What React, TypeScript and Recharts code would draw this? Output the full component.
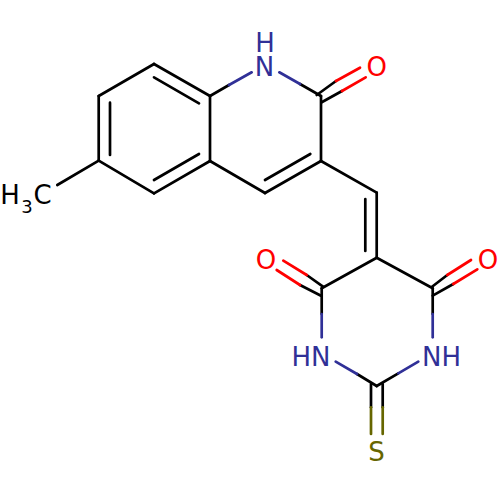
import { ComposedChart, Line, Scatter, XAxis, YAxis } from "recharts";

type Bond = [number, number, number, number];
type Atom = { x: number; y: number; label: string };

// x1, y1, x2, y2
const blackBonds: Bond[] = [
  [154, 64, 98.7, 96],
  [98.7, 96, 98.7, 160.7],
  [98.7, 160.7, 154, 193.3],
  [154, 193.3, 210, 161],
  [210, 161, 210, 96],
  [210, 96, 154, 64],
  [154, 77.3, 199, 103.3],
  [110, 102.7, 110, 155],
  [154, 180, 199, 154],
  [98.7, 160.7, 57.3, 185],
  [210, 96, 229, 85],
  [300, 84, 321, 96],
  [321, 96, 321, 161],
  [321, 161, 265, 193],
  [265, 193, 210, 161],
  [265, 180, 310.3, 154],
  [316.7, 95, 336, 81],
  [321.7, 102.3, 342, 91],
  [321, 161, 376.7, 192.7],
  [376.7, 192.7, 376.7, 257.7],
  [365.3, 199, 365.3, 251],
  [376.7, 257.7, 321.7, 288.3],
  [376.7, 257.7, 432.7, 288.3],
  [321.7, 288.3, 321.7, 314],
  [432.7, 288.3, 432.7, 314],
  [323, 286.7, 306.7, 275],
  [321, 295.7, 300, 285],
  [431.7, 287, 447.3, 275],
  [432.7, 295.7, 453.3, 284],
  [376.7, 386, 357, 374],
  [376.7, 386, 398.3, 373.3],
  [371, 384, 371, 407.3],
  [382.7, 384, 382.7, 407.3],
];
const blueBonds: Bond[] = [
  [229, 85, 251.7, 72.3],
  [279.3, 72.3, 300, 84],
  [321.7, 314, 321.7, 337.3],
  [432.7, 314, 432.7, 337.3],
  [357, 374, 335.7, 361.7],
  [398.3, 373.3, 418.3, 361.7],
];
const redBonds: Bond[] = [
  [336, 81, 360, 67.7],
  [342, 91, 365.7, 77.3],
  [306.7, 275, 283.3, 260.7],
  [300, 285, 276.7, 270],
  [447.3, 275, 471, 260],
  [453.3, 284, 477.3, 269.3],
];
const oliveBonds: Bond[] = [
  [371, 407.3, 371, 434],
  [382.7, 407.3, 382.7, 434],
];

// label centre x, baseline y
const darkAtoms: Atom[] = [
  { x: 10, y: 204, label: "H" },
  { x: 42.5, y: 204, label: "C" },
];
const darkSubscripts: Atom[] = [{ x: 27, y: 212.5, label: "3" }];
const blueAtoms: Atom[] = [
  { x: 265, y: 51.5, label: "H" },
  { x: 264.5, y: 75.5, label: "N" },
  { x: 311, y: 365.5, label: "HN" },
  { x: 441.5, y: 365.5, label: "NH" },
];
const redAtoms: Atom[] = [
  { x: 376.7, y: 75.5, label: "O" },
  { x: 266, y: 268.5, label: "O" },
  { x: 488, y: 268.5, label: "O" },
];
const oliveAtoms: Atom[] = [{ x: 376.5, y: 460.5, label: "S" }];

const BLACK = "#000000";
const BLUE = "#303097";
const RED = "#ff0000";
const OLIVE = "#666600";

const bondLines = (bonds: Bond[], color: string, name: string) =>
  bonds.map(([x1, y1, x2, y2], i) => (
    <Line
      key={`${name}-${i}`}
      data={[
        { x: x1, y: y1 },
        { x: x2, y: y2 },
      ]}
      dataKey="y"
      stroke={color}
      strokeWidth={2.7}
      strokeLinecap="round"
      dot={false}
      activeDot={false}
      legendType="none"
      isAnimationActive={false}
    />
  ));

const atomLabels = (atoms: Atom[], color: string, fontSize = 26) => (
  <Scatter
    data={atoms}
    dataKey="y"
    isAnimationActive={false}
    shape={(props: any) => (
      <text
        x={props.cx}
        y={props.cy}
        fill={color}
        fontSize={fontSize}
        fontFamily="DejaVu Sans"
        textAnchor="middle"
      >
        {props.payload.label}
      </text>
    )}
  />
);

export default function App() {
  return (
    <div style={{ position: "absolute", left: 0, top: 0, width: 500, height: 500, background: "#fff" }}>
      <ComposedChart width={500} height={500} margin={{ top: 0, right: 0, bottom: 0, left: 0 }}>
        <XAxis type="number" dataKey="x" domain={[0, 500]} hide />
        <YAxis type="number" dataKey="y" domain={[0, 500]} reversed hide />
        {bondLines(blackBonds, BLACK, "black")}
        {bondLines(blueBonds, BLUE, "blue")}
        {bondLines(redBonds, RED, "red")}
        {bondLines(oliveBonds, OLIVE, "olive")}
        {atomLabels(darkAtoms, BLACK)}
        {atomLabels(darkSubscripts, BLACK, 18)}
        {atomLabels(blueAtoms, BLUE)}
        {atomLabels(redAtoms, RED)}
        {atomLabels(oliveAtoms, OLIVE)}
      </ComposedChart>
    </div>
  );
}
